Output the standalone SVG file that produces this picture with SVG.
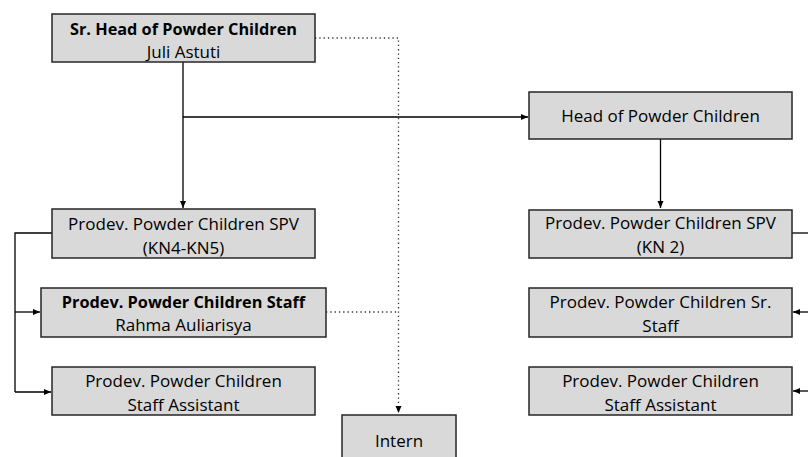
<svg xmlns="http://www.w3.org/2000/svg" width="808" height="457" viewBox="0 0 808 457">
<style>
.box{fill:#d9d9d9;stroke:#262626;stroke-width:1.5}
text{font-family:"Open Sans","Noto Sans",sans-serif;font-size:17px;fill:#000;text-anchor:middle}
.b{font-weight:bold;font-size:16.3px}
.ln{fill:none;stroke:#000;stroke-width:1.3}
.dot{fill:none;stroke:#333;stroke-width:1.3;stroke-dasharray:1.3 3}
</style>
<defs>
<marker id="ah" markerWidth="8" markerHeight="8" refX="7" refY="4" orient="auto" markerUnits="userSpaceOnUse">
<path d="M0,1 L7,4 L0,7 z" fill="#000"/>
</marker>
</defs>
<rect width="808" height="457" fill="#fff"/>
<g id="connectors">
<path class="ln" d="M183,62 V208" marker-end="url(#ah)"/>
<path class="ln" d="M183,117 H528" marker-end="url(#ah)"/>
<path class="ln" d="M660.5,139 V208" marker-end="url(#ah)"/>
<path class="ln" d="M52,233 H15 V392"/>
<path class="ln" d="M15,312 H40" marker-end="url(#ah)"/>
<path class="ln" d="M15,392 H51" marker-end="url(#ah)"/>
<path class="ln" d="M792,233 H808"/>
<path class="ln" d="M808,312 H793" marker-end="url(#ah)"/>
<path class="ln" d="M808,391 H793" marker-end="url(#ah)"/>
<path class="dot" d="M315,38 H398.5 V413" marker-end="url(#ah)"/>
<path class="dot" d="M326,312 H398.5"/>
</g>
<g id="sr-head">
<rect class="box" x="52" y="14" width="263" height="48"/>
<text class="b" x="183.5" y="35">Sr. Head of Powder Children</text>
<text x="183.5" y="58">Juli Astuti</text>
</g>
<g id="head">
<rect class="box" x="529" y="92" width="263" height="47"/>
<text x="660.5" y="122">Head of Powder Children</text>
</g>
<g id="spv-kn45">
<rect class="box" x="52" y="209" width="263" height="49"/>
<text x="183.5" y="230">Prodev. Powder Children SPV</text>
<text x="183.5" y="254">(KN4-KN5)</text>
</g>
<g id="staff">
<rect class="box" x="41" y="288" width="285" height="49"/>
<text class="b" x="183.5" y="308">Prodev. Powder Children Staff</text>
<text x="183.5" y="331">Rahma Auliarisya</text>
</g>
<g id="assistant-left">
<rect class="box" x="52" y="367" width="263" height="48"/>
<text x="183.5" y="387">Prodev. Powder Children</text>
<text x="183.5" y="411">Staff Assistant</text>
</g>
<g id="spv-kn2">
<rect class="box" x="529" y="210" width="263" height="48"/>
<text x="660.5" y="229">Prodev. Powder Children SPV</text>
<text x="660.5" y="253">(KN 2)</text>
</g>
<g id="sr-staff">
<rect class="box" x="529" y="288" width="263" height="49"/>
<text x="660.5" y="308">Prodev. Powder Children Sr.</text>
<text x="660.5" y="332">Staff</text>
</g>
<g id="assistant-right">
<rect class="box" x="529" y="367" width="263" height="48"/>
<text x="660.5" y="387">Prodev. Powder Children</text>
<text x="660.5" y="411">Staff Assistant</text>
</g>
<g id="intern">
<rect class="box" x="342" y="415" width="114" height="50"/>
<text x="399" y="447">Intern</text>
</g>
</svg>
